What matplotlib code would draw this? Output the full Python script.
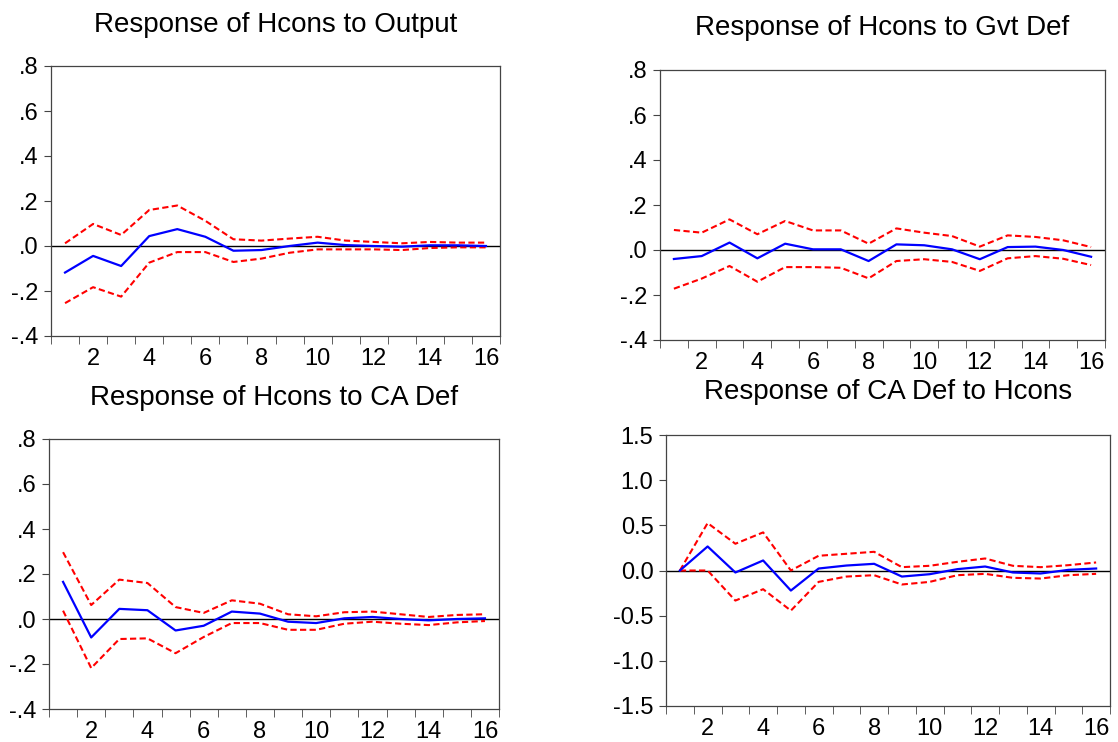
import numpy as np
import matplotlib
matplotlib.use('Agg')
import matplotlib.pyplot as plt
from matplotlib.ticker import FixedLocator, FuncFormatter

plt.rcParams['font.family'] = ['Liberation Sans', 'DejaVu Sans']

periods = np.arange(1, 17)

# Response of Hcons to Output
out_mid = [-0.118, -0.044, -0.089, 0.044, 0.075, 0.041, -0.021, -0.018,
           0.0, 0.015, 0.004, 0.0, -0.003, 0.003, 0.003, 0.0]
out_hi = [0.012, 0.098, 0.049, 0.160, 0.180, 0.112, 0.030, 0.024,
          0.033, 0.041, 0.024, 0.018, 0.012, 0.018, 0.015, 0.015]
out_lo = [-0.254, -0.183, -0.225, -0.074, -0.027, -0.027, -0.071, -0.056,
          -0.030, -0.015, -0.015, -0.015, -0.018, -0.009, -0.006, -0.006]

# Response of Hcons to Gvt Def
gvt_mid = [-0.040, -0.027, 0.033, -0.037, 0.028, 0.003, 0.003, -0.049,
           0.025, 0.021, 0.003, -0.041, 0.013, 0.015, 0.0, -0.030]
gvt_hi = [0.089, 0.077, 0.136, 0.070, 0.129, 0.087, 0.087, 0.028,
          0.096, 0.077, 0.062, 0.015, 0.065, 0.058, 0.043, 0.013]
gvt_lo = [-0.172, -0.127, -0.071, -0.141, -0.076, -0.076, -0.079, -0.126,
          -0.049, -0.041, -0.053, -0.093, -0.037, -0.027, -0.039, -0.067]

# Response of Hcons to CA Def
ca_mid = [0.165, -0.082, 0.045, 0.039, -0.051, -0.030, 0.033, 0.024,
          -0.012, -0.018, 0.003, 0.009, 0.0, -0.006, 0.0, 0.003]
ca_hi = [0.297, 0.062, 0.175, 0.160, 0.053, 0.027, 0.083, 0.068,
         0.021, 0.012, 0.030, 0.033, 0.021, 0.009, 0.018, 0.021]
ca_lo = [0.037, -0.218, -0.089, -0.086, -0.152, -0.080, -0.018, -0.018,
         -0.048, -0.048, -0.021, -0.012, -0.021, -0.027, -0.015, -0.009]

# Response of CA Def to Hcons
hc_mid = [0.0, 0.266, -0.022, 0.111, -0.222, 0.022, 0.055, 0.074,
          -0.067, -0.041, 0.015, 0.044, -0.022, -0.033, 0.007, 0.022]
hc_hi = [0.0, 0.525, 0.296, 0.422, 0.0, 0.163, 0.185, 0.207,
         0.037, 0.052, 0.096, 0.133, 0.052, 0.037, 0.059, 0.089]
hc_lo = [0.0, 0.0, -0.333, -0.207, -0.444, -0.126, -0.067, -0.052,
         -0.155, -0.126, -0.052, -0.037, -0.081, -0.089, -0.052, -0.037]

titles = ['Response of Hcons to Output', 'Response of Hcons to Gvt Def',
          'Response of Hcons to CA Def', 'Response of CA Def to Hcons']

W, H = 1118, 742
fig = plt.figure(figsize=(W / 100, H / 100), dpi=100)


def px_axes(l, t, r, b):
    return fig.add_axes([l / W, 1 - b / H, (r - l) / W, (b - t) / H])


def short_fmt(v, pos):
    s = '%.1f' % v
    if s == '-0.0':
        s = '0.0'
    return s.replace('0.', '.', 1) if abs(v) < 1 else s


panels = [
    ((51, 66, 500, 336), 25, out_mid, out_hi, out_lo, (-0.4, 0.8), 0.2, short_fmt),
    ((660, 70, 1105, 340), 28, gvt_mid, gvt_hi, gvt_lo, (-0.4, 0.8), 0.2, short_fmt),
    ((49, 439, 499, 709), 398, ca_mid, ca_hi, ca_lo, (-0.4, 0.8), 0.2, short_fmt),
    ((666, 435, 1110, 706), 392, hc_mid, hc_hi, hc_lo, (-1.5, 1.5), 0.5,
     lambda v, p: '%.1f' % v if abs(v) > 1e-9 else '0.0'),
]

for (box, ty, mid, hi, lo, ylim, step, fmt), title in zip(panels, titles):
    ax = px_axes(*box)
    ax.axhline(0, color='black', lw=1)
    ax.plot(periods, hi, color='red', ls=(0, (3, 1.6)), lw=1.5)
    ax.plot(periods, lo, color='red', ls=(0, (3, 1.6)), lw=1.5)
    ax.plot(periods, mid, color='blue', lw=1.6)
    ax.set_xlim(0.5, 16.5)
    ax.set_ylim(*ylim)
    ax.set_yticks(np.arange(ylim[0], ylim[1] + step / 2, step))
    ax.yaxis.set_major_formatter(FuncFormatter(fmt))
    ax.set_xticks(np.arange(2, 17, 2))
    ax.xaxis.set_minor_locator(FixedLocator(np.arange(0.5, 17, 1)))
    ax.tick_params(axis='x', which='major', length=0, labelsize=17, pad=8.5)
    ax.tick_params(axis='x', which='minor', length=6, direction='out',
                   color='#444444')
    ax.tick_params(axis='y', length=5, direction='out', labelsize=17, pad=4,
                   color='#444444')
    for s in ax.spines.values():
        s.set_linewidth(0.9)
        s.set_color('#444444')
    cx = (box[0] + box[2]) / 2
    fig.text(cx / W, 1 - ty / H, title, ha='center', va='center', fontsize=20)

fig.savefig('out.png', dpi=100)
